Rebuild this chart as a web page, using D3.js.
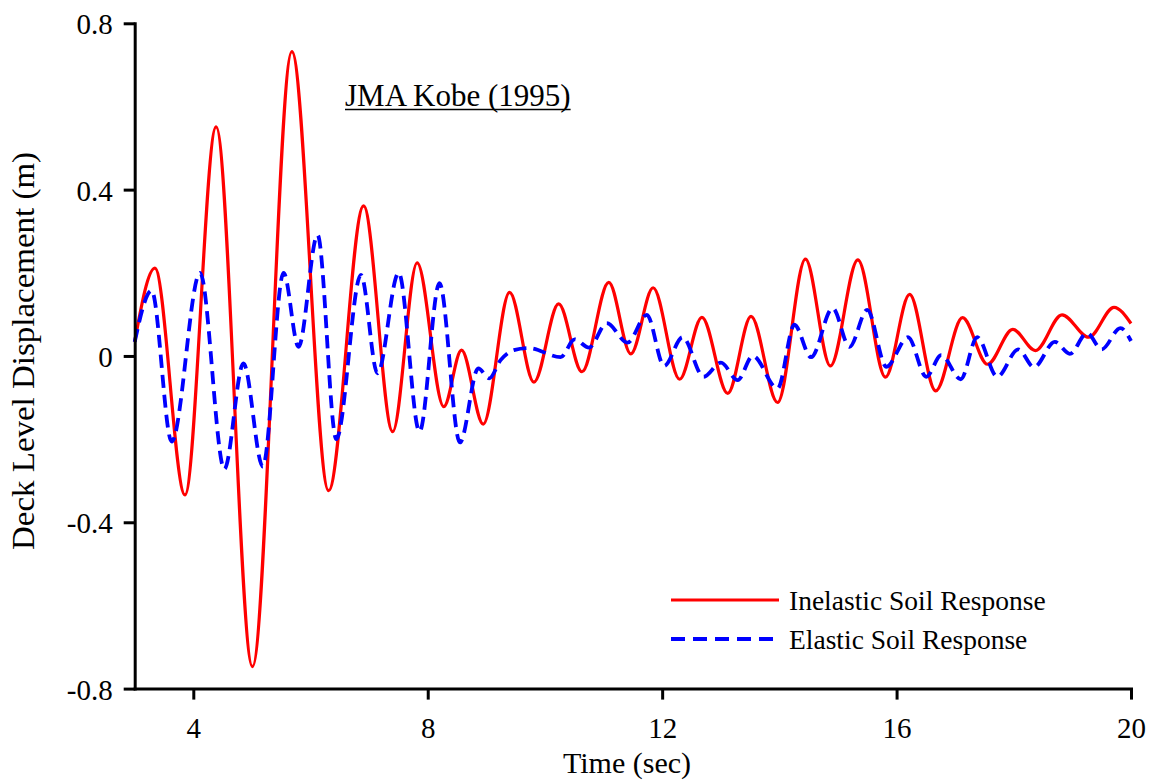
<!DOCTYPE html>
<html>
<head>
<meta charset="utf-8">
<script src="https://cdn.jsdelivr.net/npm/d3@7"></script>
<style>
  html, body { margin: 0; padding: 0; background: #fff; }
  svg { display: block; }
  text { font-family: "Liberation Serif", "Times New Roman", serif; fill: #000; }
</style>
</head>
<body>
<svg id="chart" width="1154" height="780"></svg>
<script>
// ---- Data ----
const xTicks = [4, 8, 12, 16, 20];
const yTicks = [-0.8, -0.4, 0, 0.4, 0.8];
const yTickLabels = ["-0.8", "-0.4", "0", "0.4", "0.8"];

const inelasticTime = [3.0, 3.345, 3.858, 4.389, 5.009, 5.682, 6.308, 6.906, 7.402, 7.819, 8.274, 8.576, 8.947, 9.397, 9.812, 10.234, 10.632, 11.089, 11.465, 11.846, 12.298, 12.678, 13.12, 13.517, 13.97, 14.445, 14.87, 15.34, 15.81, 16.222, 16.667, 17.125, 17.552, 17.983, 18.369, 18.823, 19.28, 19.71, 20.0];
const inelasticDisp = [0.034, 0.211, -0.334, 0.551, -0.747, 0.732, -0.324, 0.361, -0.182, 0.224, -0.122, 0.014, -0.164, 0.153, -0.063, 0.125, -0.038, 0.177, 0.005, 0.164, -0.056, 0.093, -0.090, 0.095, -0.112, 0.233, -0.024, 0.231, -0.051, 0.148, -0.084, 0.092, -0.020, 0.064, 0.013, 0.099, 0.045, 0.117, 0.078];

const elasticTime = [3.0, 3.289, 3.631, 4.115, 4.53, 4.855, 5.186, 5.54, 5.795, 6.12, 6.44, 6.86, 7.143, 7.504, 7.86, 8.20, 8.549, 8.862, 9.05, 9.243, 9.47, 9.726, 10.268, 10.507, 10.752, 11.055, 11.408, 11.738, 12.034, 12.348, 12.707, 13.003, 13.289, 13.545, 13.97, 14.256, 14.54, 14.91, 15.197, 15.5, 15.825, 16.195, 16.506, 16.763, 17.094, 17.376, 17.718, 18.077, 18.345, 18.70, 18.957, 19.25, 19.50, 19.82, 20.0];
const elasticDisp = [0.034, 0.157, -0.206, 0.200, -0.272, -0.018, -0.266, 0.200, 0.022, 0.291, -0.200, 0.195, -0.042, 0.200, -0.182, 0.175, -0.208, -0.030, -0.054, -0.010, 0.014, 0.019, -0.003, 0.040, 0.020, 0.079, 0.032, 0.099, -0.024, 0.045, -0.050, -0.016, -0.058, 0.000, -0.078, 0.075, -0.003, 0.115, 0.022, 0.111, -0.026, 0.045, -0.050, 0.002, -0.056, 0.045, -0.050, 0.016, -0.027, 0.034, 0.005, 0.055, 0.016, 0.067, 0.036];

const seriesNames = ["Inelastic Soil Response", "Elastic Soil Response"];
const title = "JMA Kobe (1995)";
const xLabel = "Time (sec)";
const yLabel = "Deck Level Displacement (m)";

// ---- Layout ----
const svg = d3.select("#chart");
const x = d3.scaleLinear().domain([3, 20]).range([134.7, 1131]);
const y = d3.scaleLinear().domain([-0.8, 0.8]).range([688.6, 23.3]);

const inelastic = inelasticTime.map((t, i) => ({ t, v: inelasticDisp[i] }));
const elastic = elasticTime.map((t, i) => ({ t, v: elasticDisp[i] }));

const line = d3.line().x(d => x(d.t)).y(d => y(d.v)).curve(d3.curveMonotoneX);

svg.append("path").datum(inelastic)
  .attr("d", line).attr("fill", "none")
  .attr("stroke", "#ff0000").attr("stroke-width", 3.2);

svg.append("path").datum(elastic)
  .attr("d", line).attr("fill", "none")
  .attr("stroke", "#0000ff").attr("stroke-width", 3.8)
  .attr("stroke-dasharray", "13,7");

// ---- Axes ----
const xAxis = d3.axisBottom(x).tickValues(xTicks).tickSize(11).tickSizeOuter(0).tickPadding(22)
  .tickFormat(d3.format("d"));
const gx = svg.append("g").attr("transform", `translate(0,${y(-0.8)})`).call(xAxis);

const yAxis = d3.axisLeft(y).tickValues(yTicks).tickSize(11).tickSizeOuter(0).tickPadding(11)
  .tickFormat((d, i) => yTickLabels[i]);
const gy = svg.append("g").attr("transform", `translate(${x(3)},0)`).call(yAxis);

[gx, gy].forEach(g => {
  g.select(".domain").attr("stroke", "#000").attr("stroke-width", 3).attr("stroke-linecap", "square");
  g.selectAll(".tick line").attr("stroke", "#000").attr("stroke-width", 3);
  g.selectAll(".tick text").attr("font-family", "'Liberation Serif', 'Times New Roman', serif")
    .attr("font-size", 29).attr("fill", "#000");
});
gx.selectAll(".tick text").attr("dy", null).attr("y", 0)
  .attr("transform", "translate(0,49)");
gy.selectAll(".tick text").attr("dy", "0.36em");

// ---- Labels ----
svg.append("text").attr("x", 627).attr("y", 772.5).attr("text-anchor", "middle")
  .attr("font-size", 30).text(xLabel);

svg.append("text").attr("transform", "translate(34,351) rotate(-90)")
  .attr("text-anchor", "middle").attr("font-size", 31.5)
  .attr("textLength", 398).attr("lengthAdjust", "spacingAndGlyphs").text(yLabel);

const tt = svg.append("text").attr("x", 345).attr("y", 106).attr("font-size", 31).text(title);
const tb = tt.node().getBBox();
svg.append("line").attr("x1", tb.x).attr("x2", tb.x + tb.width)
  .attr("y1", 109.5).attr("y2", 109.5).attr("stroke", "#000").attr("stroke-width", 1.5);

// ---- Legend ----
const legend = svg.append("g");
legend.append("line").attr("x1", 671).attr("x2", 779).attr("y1", 600).attr("y2", 600)
  .attr("stroke", "#ff0000").attr("stroke-width", 3.2);
legend.append("line").attr("x1", 671).attr("x2", 779).attr("y1", 639).attr("y2", 639)
  .attr("stroke", "#0000ff").attr("stroke-width", 3.8).attr("stroke-dasharray", "14,8");
legend.append("text").attr("x", 789).attr("y", 609.5).attr("font-size", 27.5).text(seriesNames[0]);
legend.append("text").attr("x", 789).attr("y", 648.5).attr("font-size", 27.5).text(seriesNames[1]);
</script>
</body>
</html>
